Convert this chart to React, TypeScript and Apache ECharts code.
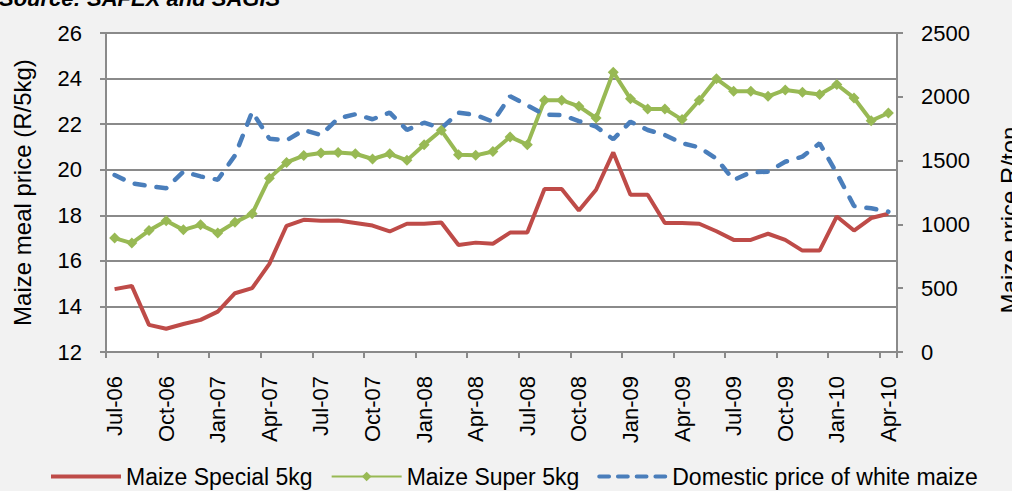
import React, { useEffect, useRef } from "react";
import * as echarts from "echarts";

const months = [
  "Jul-06", "Aug-06", "Sep-06", "Oct-06", "Nov-06", "Dec-06",
  "Jan-07", "Feb-07", "Mar-07", "Apr-07", "May-07", "Jun-07",
  "Jul-07", "Aug-07", "Sep-07", "Oct-07", "Nov-07", "Dec-07",
  "Jan-08", "Feb-08", "Mar-08", "Apr-08", "May-08", "Jun-08",
  "Jul-08", "Aug-08", "Sep-08", "Oct-08", "Nov-08", "Dec-08",
  "Jan-09", "Feb-09", "Mar-09", "Apr-09", "May-09", "Jun-09",
  "Jul-09", "Aug-09", "Sep-09", "Oct-09", "Nov-09", "Dec-09",
  "Jan-10", "Feb-10", "Mar-10", "Apr-10",
];

const maizeSpecial = [
  14.76, 14.9, 13.19, 13.02, 13.23, 13.41, 13.77, 14.58, 14.8, 15.87, 17.54, 17.8,
  17.76, 17.77, 17.66, 17.55, 17.29, 17.63, 17.63, 17.68, 16.7, 16.8, 16.75, 17.24,
  17.24, 19.15, 19.15, 18.21, 19.12, 20.76, 18.9, 18.9, 17.66, 17.66, 17.63, 17.3,
  16.92, 16.92, 17.19, 16.92, 16.45, 16.45, 17.95, 17.33, 17.88, 18.07,
];

const maizeSuper = [
  17.0, 16.78, 17.33, 17.76, 17.36, 17.58, 17.22, 17.69, 18.07, 19.63, 20.32, 20.62,
  20.73, 20.76, 20.7, 20.47, 20.7, 20.41, 21.1, 21.73, 20.66, 20.63, 20.8, 21.44,
  21.1, 23.05, 23.05, 22.78, 22.27, 24.28, 23.11, 22.67, 22.67, 22.2, 23.05, 23.99,
  23.44, 23.44, 23.22, 23.5, 23.4, 23.3, 23.74, 23.15, 22.15, 22.49,
];

const domesticWhite = [
  1387, 1322, 1301, 1283, 1413, 1376, 1350, 1540, 1883, 1672, 1658, 1740,
  1701, 1831, 1863, 1824, 1876, 1740, 1797, 1753, 1876, 1857, 1805, 2005,
  1933, 1860, 1857, 1810, 1766, 1667, 1805, 1740, 1701, 1636, 1604, 1515,
  1348, 1408, 1413, 1491, 1531, 1636, 1400, 1144, 1126, 1100,
];

const leftTicks = { min: 12, max: 26, interval: 2 };
const rightTicks = { min: 0, max: 2500, interval: 500 };

const FONT = "Liberation Sans";
const GRAY = "#8a8a8a";

const LINE_ICON = "path://M0,0 L70,0 L70,4 L0,4 Z";
const DASH_ICON =
  "path://M2,0 h10 a2,2 0 0 1 0,4 h-10 a2,2 0 0 1 0,-4 Z " +
  "M21,0 h10 a2,2 0 0 1 0,4 h-10 a2,2 0 0 1 0,-4 Z " +
  "M40,0 h10 a2,2 0 0 1 0,4 h-10 a2,2 0 0 1 0,-4 Z " +
  "M59,0 h10 a2,2 0 0 1 0,4 h-10 a2,2 0 0 1 0,-4 Z";

export default function App() {
  const ref = useRef<HTMLDivElement>(null);
  useEffect(() => {
    if (!ref.current) return;
    const chart = echarts.init(ref.current, null, { renderer: "svg" });
    chart.setOption({
      animation: false,
      backgroundColor: "#f2f2f2",
      textStyle: { fontFamily: FONT },
      graphic: [
        {
          type: "text",
          left: -1,
          top: -13,
          style: {
            text: "Source: SAFEX and SAGIS",
            font: `italic bold 22px "${FONT}"`,
            fill: "#000",
          },
        },
        {
          type: "text",
          x: 997,
          y: 220,
          rotation: Math.PI / 2,
          style: {
            text: "Maize price R/ton",
            font: `24px "${FONT}"`,
            fill: "#000",
            align: "center",
            verticalAlign: "top",
          },
        },
      ],
      grid: {
        left: 106,
        right: 115,
        top: 33,
        bottom: 139,
        show: true,
        backgroundColor: "#ffffff",
        borderWidth: 0,
      },
      legend: {
        left: 46,
        top: 460,
        itemWidth: 70,
        itemHeight: 12,
        itemGap: 18,
        textStyle: { fontSize: 23, color: "#000", fontFamily: FONT },
        data: [
          { name: "Maize Special 5kg", icon: LINE_ICON },
          { name: "Maize Super 5kg" },
          { name: "Domestic price of white maize", icon: DASH_ICON },
        ],
      },
      xAxis: {
        type: "category",
        data: months,
        boundaryGap: true,
        axisLine: { show: true, lineStyle: { color: GRAY, width: 2 } },
        axisTick: { show: true, interval: 2, length: 6, lineStyle: { color: GRAY, width: 2 } },
        axisLabel: {
          interval: 2,
          rotate: 90,
          margin: 24,
          fontSize: 22,
          color: "#000",
          fontFamily: FONT,
        },
        splitLine: { show: false },
      },
      yAxis: [
        {
          type: "value",
          min: leftTicks.min,
          max: leftTicks.max,
          interval: leftTicks.interval,
          name: "Maize meal price (R/5kg)",
          nameLocation: "middle",
          nameGap: 72,
          nameTextStyle: { fontSize: 24, color: "#000", fontFamily: FONT },
          axisLine: { show: true, lineStyle: { color: GRAY, width: 2 } },
          axisTick: { show: true, length: 6, lineStyle: { color: GRAY, width: 2 } },
          axisLabel: { fontSize: 22, color: "#000", margin: 24, fontFamily: FONT },
          splitLine: { show: true, lineStyle: { color: GRAY, width: 2 } },
        },
        {
          type: "value",
          position: "right",
          min: rightTicks.min,
          max: rightTicks.max,
          interval: rightTicks.interval,
          axisLine: { show: true, lineStyle: { color: GRAY, width: 2 } },
          axisTick: { show: true, length: 6, lineStyle: { color: GRAY, width: 2 } },
          axisLabel: {
            fontSize: 22,
            color: "#000",
            margin: 24,
            fontFamily: FONT,
            formatter: (v: number) => String(v),
          },
          splitLine: { show: false },
        },
      ],
      series: [
        {
          name: "Maize Special 5kg",
          type: "line",
          data: maizeSpecial,
          yAxisIndex: 0,
          symbol: "none",
          lineStyle: { color: "#be4b48", width: 4 },
          itemStyle: { color: "#be4b48" },
        },
        {
          name: "Maize Super 5kg",
          type: "line",
          data: maizeSuper,
          yAxisIndex: 0,
          symbol: "diamond",
          symbolSize: 11,
          showAllSymbol: true,
          lineStyle: { color: "#98b954", width: 4 },
          itemStyle: { color: "#98b954" },
        },
        {
          name: "Domestic price of white maize",
          type: "line",
          data: domesticWhite,
          yAxisIndex: 1,
          symbol: "none",
          lineStyle: { color: "#4a7ebb", width: 4.5, type: [10, 12], cap: "round" },
          itemStyle: { color: "#4a7ebb" },
        },
      ],
    });
    return () => chart.dispose();
  }, []);
  return (
    <div
      ref={ref}
      style={{ position: "fixed", left: 0, top: 0, width: 1012, height: 491 }}
    />
  );
}
